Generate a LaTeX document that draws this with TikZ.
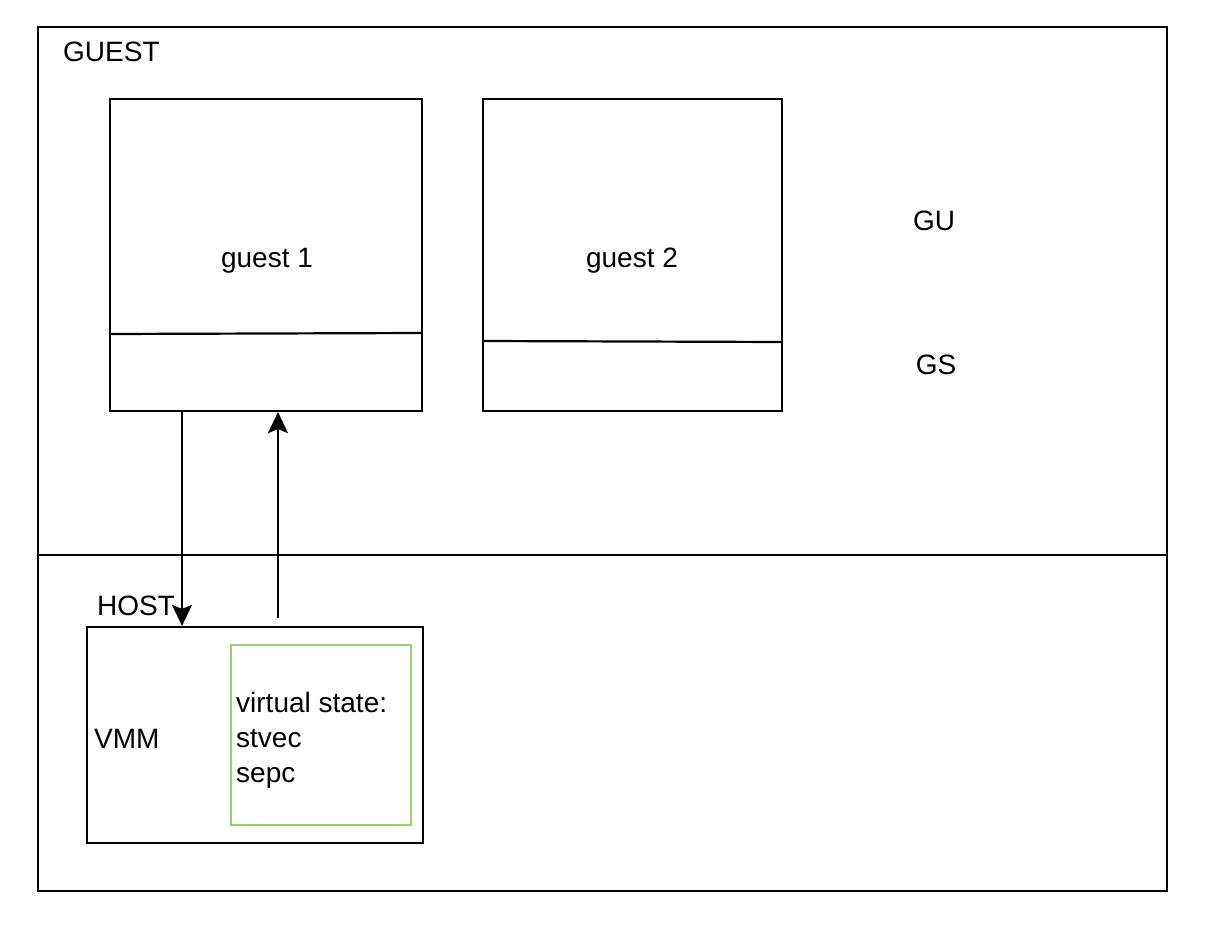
\documentclass[tikz,border=0pt]{standalone}
\usepackage{fontspec}
\setmainfont{Liberation Sans}
\usetikzlibrary{arrows.meta}
\definecolor{drawgreen}{HTML}{97D077}
\begin{document}
\begin{tikzpicture}[x=1pt,y=-1pt,
  box/.style={draw=black,line width=2.2pt,inner sep=0pt,fill=white},
  lbl/.style={font=\fontsize{28}{35}\selectfont,inner sep=0pt},
  conn/.style={line width=2.2pt,-{Stealth[length=21pt,width=20pt,inset=4pt]}}]
\useasboundingbox (0,0) rectangle (1216,934);
% outer frame
\node[box,minimum width=1129pt,minimum height=864pt,fill=none] (outer) at (602.5,459) {};
\coordinate (divL) at (38,555);
\coordinate (divR) at (1167,555);
\draw[line width=2.2pt] (divL) -- (divR);
\node[lbl,anchor=west] (guestlbl) at (63,52) {GUEST};
% guest 1
\node[box,minimum width=312pt,minimum height=312pt] (g1) at (266,255) {};
\coordinate (g1l) at (110,334);
\coordinate (g1r) at (422,333);
\draw[line width=2.2pt] (g1l) -- (g1r);
\node[lbl] (g1t) at (267,261) {guest 1};
% guest 2
\node[box,minimum width=299pt,minimum height=312pt] (g2) at (632.5,255) {};
\coordinate (g2l) at (483,341);
\coordinate (g2r) at (782,342);
\draw[line width=2.2pt] (g2l) -- (g2r);
\node[lbl] (g2t) at (632,261) {guest 2};
\node[lbl] (gu) at (934,221) {GU};
\node[lbl] (gs) at (936,365) {GS};
% host
\node[lbl,anchor=west] (hostlbl) at (97,606) {HOST};
\node[box,minimum width=336pt,minimum height=216pt] (vmm) at (255,735) {};
\node[lbl,anchor=west] (vmmt) at (94,739) {VMM};
\node[draw=drawgreen,line width=2.2pt,minimum width=180pt,minimum height=180pt,inner sep=0pt] (vs) at (321,735) {};
\node[lbl,anchor=west,align=left] (vst) at (236,740) {virtual state:\\stvec\\sepc};
% connectors
\draw[conn] (g1.south -| 182,0) -- (vmm.north -| 182,0);
\coordinate (upstart) at (278,618);
\draw[conn] (upstart) -- (g1.south -| upstart);
\end{tikzpicture}
\end{document}
